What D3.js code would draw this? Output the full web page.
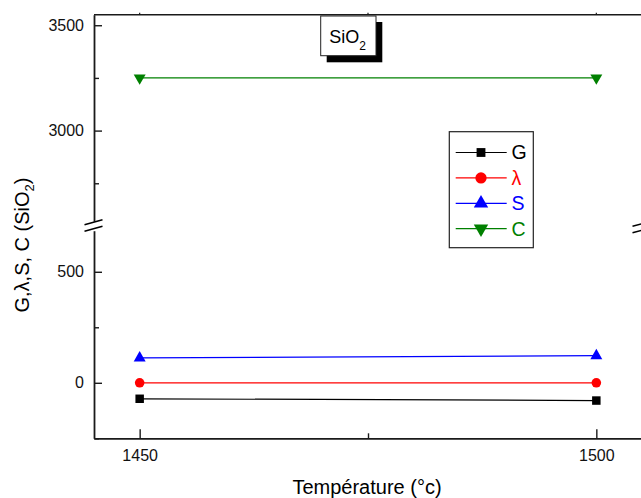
<!DOCTYPE html>
<html>
<head>
<meta charset="utf-8">
<script src="https://cdn.jsdelivr.net/npm/d3@7"></script>
<style>
  html, body { margin: 0; padding: 0; background: #fff; }
  svg { display: block; font-family: "Liberation Sans", Arial, sans-serif; }
</style>
</head>
<body>
<svg id="chart" width="641" height="498"></svg>
<script>
// ---- data ----
const temperatures = [1450, 1500];
const seriesNames = ["G", "λ", "S", "C"];
const seriesG = [-72, -80];
const seriesLambda = [0, 0];
const seriesS = [112, 122];
const seriesC = [3250, 3250];
const xTickLabels = [1450, 1500];
const xMinorTicks = [1475];
const upperTickLabels = [3000, 3500];
const upperMinorTicks = [2750, 3250];
const lowerTickLabels = [0, 500];
const lowerMinorTicks = [-250, 250];

const colors = { G: "#000000", "λ": "#ff0000", S: "#0000ff", C: "#008000" };
const symbols = { G: d3.symbolSquare, "λ": d3.symbolCircle, S: d3.symbolTriangle, C: d3.symbolTriangle };
const symSize = { G: 72, "λ": 72, S: 62, C: 62 };
const legSize = { G: 78, "λ": 100, S: 90, C: 90 };
const symRot = { G: 0, "λ": 0, S: 0, C: 180 };

const series = [
  { name: "G", values: seriesG, seg: "lower" },
  { name: "λ", values: seriesLambda, seg: "lower" },
  { name: "S", values: seriesS, seg: "lower" },
  { name: "C", values: seriesC, seg: "upper" }
];

const svg = d3.select("#chart");
const plotLeft = 94, plotRight = 642, plotTop = 14.7, plotBottom = 438.3;

const x = d3.scaleLinear().domain([1445, 1505]).range([plotLeft, plotRight]);
const yU = d3.scaleLinear().domain([2570, 3550]).range([221.2, plotTop]);
const yL = d3.scaleLinear().domain([-250, 685]).range([plotBottom, 230.7]);
const yOf = { upper: yU, lower: yL };

const axisColor = "#1a1a1a";

// Top frame line with tiny outward ticks
svg.append("line").attr("x1", plotLeft).attr("x2", plotRight).attr("y1", plotTop).attr("y2", plotTop)
  .attr("stroke", axisColor).attr("stroke-width", 1.6);
svg.selectAll(".topTick").data(xTickLabels.concat(xMinorTicks)).enter().append("line")
  .attr("x1", d => x(d)).attr("x2", d => x(d)).attr("y1", plotTop).attr("y2", plotTop - 2)
  .attr("stroke", axisColor).attr("stroke-width", 1.2);

// Bottom axis
const gx = svg.append("g").attr("transform", `translate(0,${plotBottom})`)
  .call(d3.axisBottom(x).tickValues(xTickLabels).tickSize(-9).tickSizeOuter(0).tickPadding(11.5).tickFormat(d3.format("d")));
gx.select(".domain").attr("stroke", axisColor).attr("stroke-width", 1.8);
gx.selectAll(".tick line").attr("stroke", axisColor).attr("stroke-width", 1.4);
gx.selectAll("text").attr("font-size", 16).attr("fill", "#111").attr("font-family", "Liberation Sans, Arial, sans-serif");
const gxm = svg.append("g").attr("transform", `translate(0,${plotBottom})`)
  .call(d3.axisBottom(x).tickValues(xMinorTicks).tickSize(-5).tickSizeOuter(0).tickFormat(""));
gxm.select(".domain").remove();
gxm.selectAll(".tick line").attr("stroke", axisColor).attr("stroke-width", 1.4);

// Left axes (upper and lower segments)
function leftAxis(scale, majors, minors) {
  const g = svg.append("g").attr("transform", `translate(${plotLeft},0)`)
    .call(d3.axisLeft(scale).tickValues(majors).tickSize(-8).tickSizeOuter(0).tickPadding(10).tickFormat(d3.format("d")));
  g.select(".domain").attr("stroke", axisColor).attr("stroke-width", 1.8);
  g.selectAll(".tick line").attr("stroke", axisColor).attr("stroke-width", 1.4);
  g.selectAll("text").attr("font-size", 16).attr("fill", "#111").attr("font-family", "Liberation Sans, Arial, sans-serif");
  const gm = svg.append("g").attr("transform", `translate(${plotLeft},0)`)
    .call(d3.axisLeft(scale).tickValues(minors).tickSize(-5).tickSizeOuter(0).tickFormat(""));
  gm.select(".domain").remove();
  gm.selectAll(".tick line").attr("stroke", axisColor).attr("stroke-width", 1.4);
}
leftAxis(yU, upperTickLabels, upperMinorTicks);
leftAxis(yL, lowerTickLabels, lowerMinorTicks);

// Right axis segments (mostly off-canvas)
svg.append("line").attr("x1", plotRight).attr("x2", plotRight).attr("y1", yU.range()[0]).attr("y2", plotTop).attr("stroke", axisColor).attr("stroke-width", 1.8);
svg.append("line").attr("x1", plotRight).attr("x2", plotRight).attr("y1", yL.range()[0]).attr("y2", yL.range()[1]).attr("stroke", axisColor).attr("stroke-width", 1.8);

// Break marks
function breakMarks(cx, dy) {
  const yA = (yU.range()[0] + 1), yB = (yL.range()[1] - 2);
  [yA, yB].forEach(yy => {
    svg.append("line")
      .attr("x1", cx - 9.5).attr("y1", yy + 2.6 + dy)
      .attr("x2", cx + 8.5).attr("y2", yy - 2.4 + dy)
      .attr("stroke", "#000").attr("stroke-width", 1.5);
  });
}
breakMarks(plotLeft, 0);
breakMarks(plotRight, 1.5);

// Lines and markers
const line = (scale) => d3.line().x((d, i) => x(temperatures[i])).y(d => scale(d));
series.forEach(s => {
  const sc = yOf[s.seg];
  svg.append("path").datum(s.values)
    .attr("d", line(sc)).attr("fill", "none")
    .attr("stroke", colors[s.name]).attr("stroke-width", 1.2);
  svg.selectAll(null).data(s.values).enter().append("path")
    .attr("d", d3.symbol().type(symbols[s.name]).size(symSize[s.name]))
    .attr("transform", (d, i) => `translate(${x(temperatures[i])},${sc(d)}) rotate(${symRot[s.name]})`)
    .attr("fill", colors[s.name]);
});

// Legend
const lg = svg.append("g");
lg.append("rect").attr("x", 449.3).attr("y", 131.7).attr("width", 84).attr("height", 116)
  .attr("fill", "#fff").attr("stroke", "#222").attr("stroke-width", 1.2);
seriesNames.forEach((n, i) => {
  const yy = 152.5 + i * 25.4;
  lg.append("line").attr("x1", 455.7).attr("x2", 506.7).attr("y1", yy).attr("y2", yy)
    .attr("stroke", colors[n]).attr("stroke-width", 1.2);
  lg.append("path").attr("d", d3.symbol().type(symbols[n]).size(legSize[n]))
    .attr("transform", `translate(481,${yy}) rotate(${symRot[n]})`).attr("fill", colors[n]);
  lg.append("text").attr("x", 511.5).attr("y", yy + 6.8).attr("font-size", 19.5)
    .attr("fill", colors[n]).text(n);
});

// SiO2 label box
svg.append("rect").attr("x", 326.7).attr("y", 22).attr("width", 55.6).attr("height", 40.3).attr("fill", "#000");
svg.append("rect").attr("x", 320.7).attr("y", 16).attr("width", 55.3).attr("height", 39.7)
  .attr("fill", "#fff").attr("stroke", "#222").attr("stroke-width", 1);
const st = svg.append("text").attr("x", 329.3).attr("y", 42.5).attr("font-size", 18).attr("fill", "#000");
st.append("tspan").text("SiO");
st.append("tspan").attr("font-size", 12).attr("dy", 7).text("2");

// Axis titles
svg.append("text").attr("x", 367).attr("y", 494).attr("text-anchor", "middle")
  .attr("font-size", 20).attr("fill", "#000").text("Température (°c)");
const yt = svg.append("text").attr("transform", "translate(29,245) rotate(-90)")
  .attr("text-anchor", "middle").attr("font-size", 20).attr("fill", "#000");
yt.append("tspan").text("G,λ,S, C (SiO");
yt.append("tspan").attr("font-size", 13).attr("dy", 5).text("2");
yt.append("tspan").attr("dy", -5).text(")");
</script>
</body>
</html>
